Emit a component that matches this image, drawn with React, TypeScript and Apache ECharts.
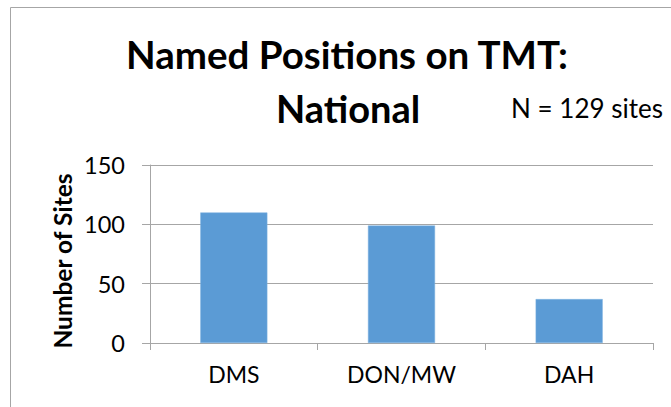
import React, { useEffect, useRef } from "react";
import * as echarts from "echarts";

const categories = ["DMS", "DON/MW", "DAH"];
const siteCounts = [110, 99, 37];
const yTicks = { min: 0, max: 150, interval: 50 };
const titleLine1 = "Named Positions on TMT:";
const titleLine2 = "National";
const noteText = "N = 129 sites";
const yAxisName = "Number of Sites";

const FONT = "Lato, 'Open Sans', sans-serif";
const GRAY = "#a6a6a6";

export default function App() {
  const ref = useRef<HTMLDivElement>(null);
  useEffect(() => {
    if (!ref.current) return;
    const chart = echarts.init(ref.current, undefined, { renderer: "svg" });
    chart.setOption({
      animation: false,
      backgroundColor: "#ffffff",
      grid: { left: 150, right: 18, top: 165, bottom: 64, containLabel: false },
      xAxis: {
        type: "category",
        data: categories,
        boundaryGap: true,
        axisLine: { show: true, lineStyle: { color: GRAY, width: 1 } },
        axisTick: { show: true, alignWithLabel: false, length: 7, lineStyle: { color: GRAY } },
        axisLabel: { color: "#000", fontFamily: FONT, fontSize: 23, margin: 19 },
      },
      yAxis: {
        type: "value",
        min: yTicks.min,
        max: yTicks.max,
        interval: yTicks.interval,
        axisLine: { show: true, lineStyle: { color: GRAY, width: 1 } },
        axisTick: { show: true, inside: false, length: 8, lineStyle: { color: GRAY } },
        splitLine: { show: true, lineStyle: { color: GRAY, width: 1 } },
        axisLabel: { color: "#000", fontFamily: FONT, fontSize: 23.5, margin: 25 },
      },
      series: [
        {
          type: "bar",
          data: siteCounts,
          barWidth: "40%",
          itemStyle: { color: "#5b9bd5", borderColor: "#7fb2e0", borderWidth: 0.5 },
        },
      ],
      graphic: [
        {
          type: "rect",
          shape: { x: 10.5, y: 7.5, width: 720, height: 500 },
          style: { fill: "none", stroke: GRAY, lineWidth: 1 },
          silent: true,
        },
        {
          type: "text",
          x: 347,
          y: 54,
          style: {
            text: titleLine1,
            fontFamily: FONT,
            fontWeight: "bold",
            fontSize: 38.5,
            fill: "#000",
            textAlign: "center",
            textVerticalAlign: "middle",
          },
        },
        {
          type: "text",
          x: 348,
          y: 108,
          style: {
            text: titleLine2,
            fontFamily: FONT,
            fontWeight: "bold",
            fontSize: 38,
            fill: "#000",
            textAlign: "center",
            textVerticalAlign: "middle",
          },
        },
        {
          type: "text",
          x: 663,
          y: 108,
          style: {
            text: noteText,
            fontFamily: FONT,
            fontSize: 26,
            fill: "#000",
            textAlign: "right",
            textVerticalAlign: "middle",
          },
        },
        {
          type: "text",
          x: 62,
          y: 261,
          rotation: Math.PI / 2,
          style: {
            text: yAxisName,
            fontFamily: FONT,
            fontWeight: "bold",
            fontSize: 24.5,
            fill: "#000",
            textAlign: "center",
            textVerticalAlign: "middle",
          },
        },
      ],
    });
    return () => chart.dispose();
  }, []);
  return (
    <div
      ref={ref}
      style={{ position: "fixed", left: 0, top: 0, width: 671, height: 407 }}
    />
  );
}
